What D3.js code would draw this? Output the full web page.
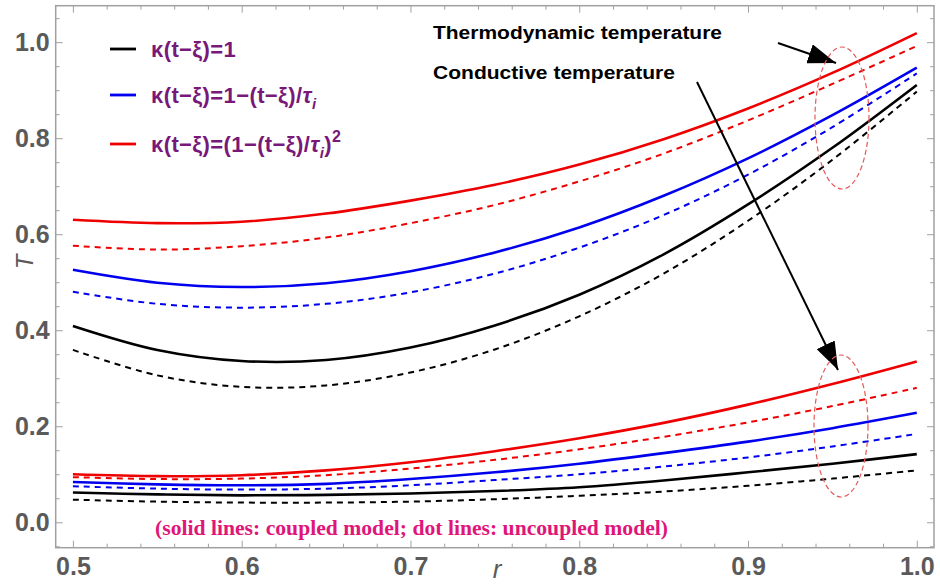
<!DOCTYPE html>
<html><head><meta charset="utf-8">
<script src="https://cdn.jsdelivr.net/npm/d3@7/dist/d3.min.js"></script>
<style>body{margin:0;background:#fff}svg{display:block}</style>
</head><body>
<svg id="c" width="940" height="588"></svg>
<script>
const r = [0.5,0.55,0.6,0.65,0.7,0.75,0.8,0.85,0.9,0.95,1.0];
// Thermodynamic temperature (upper group)
const thBlackSolid = [0.409,0.359,0.336,0.338,0.364,0.410,0.474,0.558,0.662,0.780,0.911];
const thBlackDash  = [0.359,0.306,0.282,0.285,0.312,0.360,0.429,0.518,0.628,0.755,0.897];
const thBlueSolid  = [0.526,0.499,0.490,0.498,0.523,0.562,0.614,0.680,0.758,0.848,0.947];
const thBlueDash   = [0.480,0.455,0.447,0.455,0.479,0.518,0.572,0.640,0.724,0.823,0.935];
const thRedSolid   = [0.630,0.623,0.626,0.643,0.670,0.703,0.745,0.798,0.862,0.936,1.019];
const thRedDash    = [0.576,0.568,0.575,0.593,0.623,0.661,0.710,0.768,0.837,0.913,0.992];
// Conductive temperature (lower group)
const coBlackSolid = [0.062,0.058,0.056,0.057,0.060,0.065,0.073,0.087,0.104,0.122,0.142];
const coBlackDash  = [0.047,0.043,0.041,0.041,0.043,0.048,0.055,0.064,0.076,0.091,0.108];
const coBlueSolid  = [0.084,0.079,0.077,0.080,0.090,0.104,0.122,0.144,0.168,0.196,0.228];
const coBlueDash   = [0.075,0.070,0.068,0.070,0.077,0.088,0.100,0.116,0.135,0.158,0.184];
const coRedSolid   = [0.100,0.096,0.098,0.108,0.125,0.148,0.175,0.207,0.245,0.288,0.335];
const coRedDash    = [0.094,0.090,0.091,0.098,0.112,0.130,0.152,0.178,0.208,0.242,0.280];

const xTicks = [0.5,0.6,0.7,0.8,0.9,1.0];
const yTicks = [0.0,0.2,0.4,0.6,0.8,1.0];
const xTickLabels = ["0.5","0.6","0.7","0.8","0.9","1.0"];
const yTickLabels = ["0.0","0.2","0.4","0.6","0.8","1.0"];

const svg = d3.select("#c");
const L=55.7, R=934, T=5.7, B=547.7;
const x = d3.scaleLinear().domain([0.4898,1.0102]).range([L,R]);
const y = d3.scaleLinear().domain([-0.053,1.076]).range([B,T]);

const gray="#a0a0a0", lab="#5a5a5a";
svg.append("rect").attr("x",L).attr("y",T).attr("width",R-L).attr("height",B-T)
  .attr("fill","none").attr("stroke",gray).attr("stroke-width",1.5);

const xMinor = d3.range(0.5,1.0001,0.02).map(v=>+v.toFixed(2)).filter(v=>!xTicks.includes(v));
const yMinor = d3.range(-0.05,1.0751,0.05).map(v=>+v.toFixed(2)).filter(v=>!yTicks.includes(v));

function styleAxis(g){ g.select(".domain").remove(); g.selectAll("line").attr("stroke",gray).attr("stroke-width",1); }
const fmtX = d=>xTickLabels[xTicks.indexOf(d)];
const fmtY = d=>yTickLabels[yTicks.indexOf(d)];
const labStyle = g=>g.selectAll("text").attr("fill",lab).attr("font-size",25).attr("font-weight","bold")
  .attr("font-family","Liberation Sans, Arial, sans-serif");

svg.append("g").attr("transform",`translate(0,${B})`)
  .call(d3.axisBottom(x).tickValues(xTicks).tickSize(-7).tickPadding(10).tickFormat(fmtX))
  .call(styleAxis).call(labStyle);
svg.append("g").attr("transform",`translate(0,${B})`)
  .call(d3.axisBottom(x).tickValues(xMinor).tickSize(-4).tickFormat("")).call(styleAxis);
svg.append("g").attr("transform",`translate(0,${T})`)
  .call(d3.axisTop(x).tickValues(xTicks).tickSize(-7).tickFormat("")).call(styleAxis);
svg.append("g").attr("transform",`translate(0,${T})`)
  .call(d3.axisTop(x).tickValues(xMinor).tickSize(-4).tickFormat("")).call(styleAxis);

svg.append("g").attr("transform",`translate(${L},0)`)
  .call(d3.axisLeft(y).tickValues(yTicks).tickSize(-7).tickPadding(6).tickFormat(fmtY))
  .call(styleAxis).call(labStyle);
svg.append("g").attr("transform",`translate(${L},0)`)
  .call(d3.axisLeft(y).tickValues(yMinor).tickSize(-4).tickFormat("")).call(styleAxis);
svg.append("g").attr("transform",`translate(${R},0)`)
  .call(d3.axisRight(y).tickValues(yTicks).tickSize(-7).tickFormat("")).call(styleAxis);
svg.append("g").attr("transform",`translate(${R},0)`)
  .call(d3.axisRight(y).tickValues(yMinor).tickSize(-4).tickFormat("")).call(styleAxis);

svg.append("text").attr("transform","translate(33,262) rotate(-90)").attr("text-anchor","middle")
  .attr("font-family","Liberation Sans, Arial, sans-serif").attr("font-style","italic").attr("font-size",24)
  .attr("fill",lab).text("T");
svg.append("text").attr("x",497).attr("y",578).attr("text-anchor","middle")
  .attr("font-family","Liberation Sans, Arial, sans-serif").attr("font-style","italic").attr("font-size",26)
  .attr("fill",lab).text("r");

const line = d3.line().x(d=>x(d[0])).y(d=>y(d[1])).curve(d3.curveCatmullRom.alpha(0.5));
const series = [
  [thBlackSolid,"#000",false],[thBlackDash,"#000",true],
  [thBlueSolid,"#0000ee",false],[thBlueDash,"#0000ee",true],
  [thRedSolid,"#ee0000",false],[thRedDash,"#ee0000",true],
  [coBlackSolid,"#000",false],[coBlackDash,"#000",true],
  [coBlueSolid,"#0000ee",false],[coBlueDash,"#0000ee",true],
  [coRedSolid,"#ee0000",false],[coRedDash,"#ee0000",true]
];
series.forEach(([vals,col,dash])=>{
  svg.append("path").datum(r.map((v,i)=>[v,vals[i]])).attr("d",line)
    .attr("fill","none").attr("stroke",col).attr("stroke-width",dash?2:2.6)
    .attr("stroke-dasharray",dash?"6,5":null);
});

const legendLabels = [
  {col:"#000", parts:[["κ(t−ξ)=1"]]},
  {col:"#0000ee", parts:[["κ(t−ξ)=1−(t−ξ)/"],["τ","i"],["i","sub"]]},
  {col:"#ee0000", parts:[["κ(t−ξ)=(1−(t−ξ)/"],["τ","i"],["i","sub"],[")"],["2","sup"]]}
];
const legY = [49,95,144];
legendLabels.forEach((lg,k)=>{
  svg.append("line").attr("x1",110).attr("x2",136).attr("y1",legY[k]).attr("y2",legY[k])
    .attr("stroke",lg.col).attr("stroke-width",2.8);
  const t = svg.append("text").attr("x",151).attr("y",legY[k]+8)
    .attr("font-family","Liberation Sans, Arial, sans-serif").attr("font-weight","bold")
    .attr("font-size",22).attr("fill","#781878").attr("letter-spacing",0.4);
  let shift=0;
  lg.parts.forEach(p=>{
    const s = t.append("tspan").text(p[0]);
    let target=0;
    if(p[1]==="i") s.attr("font-style","italic");
    if(p[1]==="sub"){ s.attr("font-style","italic").attr("font-size",15); target=6; }
    if(p[1]==="sup"){ s.attr("font-size",16); target=-10; }
    if(target!==shift){ s.attr("dy",target-shift); shift=target; }
  });
});

svg.append("text").attr("x",433).attr("y",39).attr("font-family","Liberation Sans, Arial, sans-serif")
  .attr("font-weight","bold").attr("font-size",18).attr("textLength",289).attr("lengthAdjust","spacingAndGlyphs")
  .attr("fill","#000").text("Thermodynamic temperature");
svg.append("text").attr("x",433).attr("y",79).attr("font-family","Liberation Sans, Arial, sans-serif")
  .attr("font-weight","bold").attr("font-size",18).attr("textLength",242).attr("lengthAdjust","spacingAndGlyphs")
  .attr("fill","#000").text("Conductive temperature");
svg.append("text").attr("x",155).attr("y",535).attr("font-family","Liberation Serif, Times New Roman, serif")
  .attr("font-weight","bold").attr("font-size",20).attr("textLength",513).attr("lengthAdjust","spacingAndGlyphs")
  .attr("fill","#e0157a").text("(solid lines: coupled model; dot lines: uncoupled model)");

const defs = svg.append("defs");
defs.append("marker").attr("id","ah").attr("viewBox","0 0 10 10").attr("refX",10).attr("refY",5)
  .attr("markerWidth",28).attr("markerHeight",20).attr("markerUnits","userSpaceOnUse")
  .attr("orient","auto").attr("preserveAspectRatio","none")
  .append("path").attr("d","M0,0 L10,5 L0,10 z").attr("fill","#000");
svg.append("line").attr("x1",778).attr("y1",43).attr("x2",836).attr("y2",63)
  .attr("stroke","#000").attr("stroke-width",2).attr("marker-end","url(#ah)");
svg.append("line").attr("x1",697).attr("y1",82).attr("x2",838).attr("y2",370)
  .attr("stroke","#000").attr("stroke-width",2).attr("marker-end","url(#ah)");

[[842,118],[841,426]].forEach(([cx,cy])=>{
  svg.append("ellipse").attr("cx",cx).attr("cy",cy).attr("rx",27).attr("ry",71)
    .attr("fill","none").attr("stroke","#e45a5a").attr("stroke-width",1.2).attr("stroke-dasharray","5,3");
});
</script>
</body></html>
